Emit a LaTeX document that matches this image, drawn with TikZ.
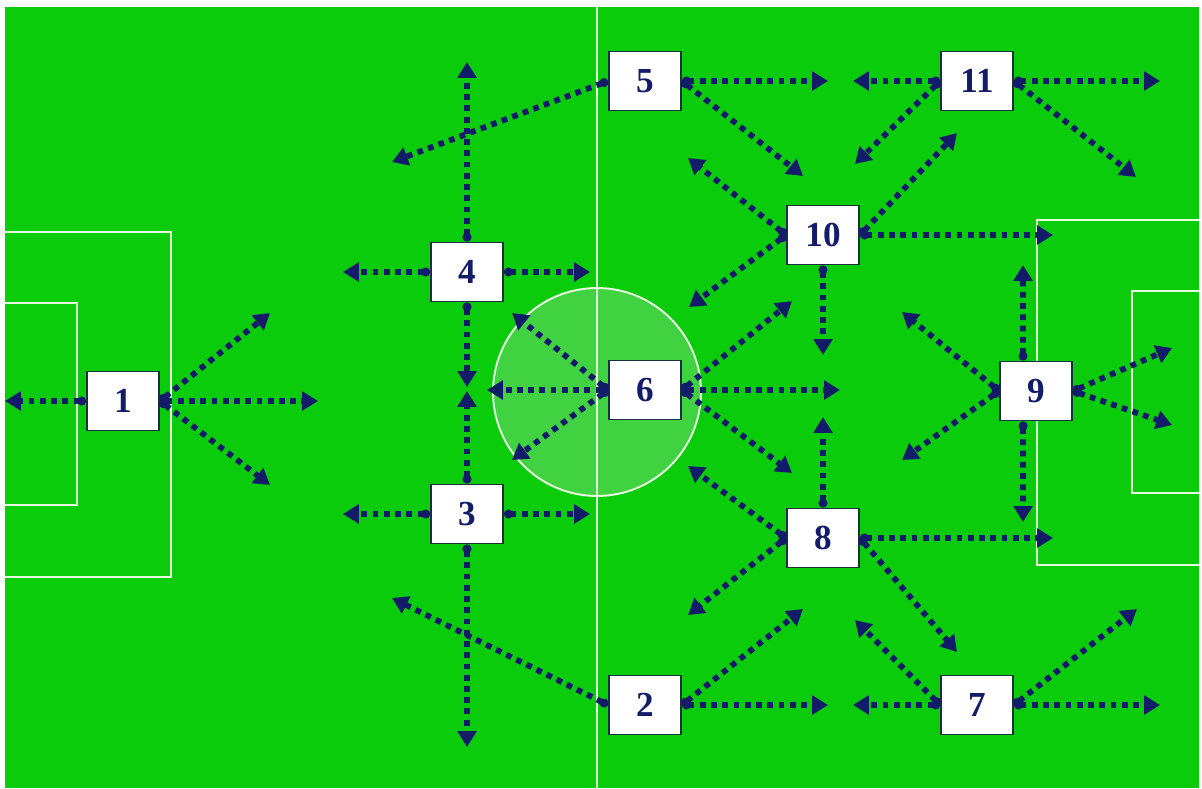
\documentclass[tikz,border=0pt]{standalone}
\usepackage{xcolor}
\usepackage{fontspec}
\setmainfont{Liberation Serif}
\usepackage{tikz}
\usetikzlibrary{arrows.meta}
\definecolor{pitch}{RGB}{10,204,10}
\definecolor{circ}{RGB}{64,210,64}
\definecolor{chalk}{RGB}{232,250,222}
\definecolor{navy}{RGB}{18,28,104}
\definecolor{rim}{RGB}{24,48,64}
\tikzset{
  player/.style={draw=rim,fill=white,line width=1.1pt,minimum width=1.44cm,minimum height=1.18cm,inner sep=0pt,font=\fontsize{20}{24}\selectfont\bfseries,text=navy},
  run/.style={draw=navy,line width=3.3pt,dash pattern=on 3.3pt off 3.1pt,{Circle[length=5pt]}-{Triangle[length=9pt,width=10.5pt]}},
  chalkline/.style={draw=chalk,line width=1.1pt}
}

\begin{document}
\begin{tikzpicture}[x=0.02cm,y=-0.02cm]
\useasboundingbox (0,0) rectangle (1202,788);
\fill[pitch] (5,7) rectangle (1199,788);
\filldraw[fill=circ,chalkline] (597,392) circle (2.08cm);
\draw[chalkline] (597,7) -- (597,788);
\draw[chalkline] (5,232) -- (171,232) -- (171,577) -- (5,577);
\draw[chalkline] (5,303) -- (77,303) -- (77,505) -- (5,505);
\draw[chalkline] (1199,220) -- (1037,220) -- (1037,565) -- (1199,565);
\draw[chalkline] (1199,291) -- (1132,291) -- (1132,493) -- (1199,493);

\node[player] (n1) at (123,401) {1};
\node[player] (n2) at (645,705) {2};
\node[player] (n3) at (467,514) {3};
\node[player] (n4) at (467,272) {4};
\node[player] (n5) at (645,81) {5};
\node[player] (n6) at (645,390) {6};
\node[player] (n7) at (977,705) {7};
\node[player] (n8) at (823,538) {8};
\node[player] (n9) at (1036,391) {9};
\node[player] (n10) at (823,235) {10};
\node[player] (n11) at (977,81) {11};

\foreach \c/\x/\y in {r1a/5/401, r1b/318/401, r1c/270/313, r1d/270/485,
    r2a/392/598, r2b/803/609, r2c/828/705,
    r3a/467/391, r3b/467/747, r3c/343/514, r3d/590/514,
    r4a/467/62, r4b/467/387, r4c/343/272, r4d/590/272,
    r5a/392/162, r5b/828/81, r5c/803/176,
    r6a/487/390, r6b/512/313, r6c/512/460, r6d/840/390, r6e/792/301, r6f/792/473,
    r7a/855/620, r7b/853/705, r7c/1137/609, r7d/1160/705,
    r8a/823/417, r8b/688/466, r8c/688/615, r8d/1053/538, r8e/957/652,
    r9a/902/312, r9b/902/460, r9c/1023/265, r9d/1023/522, r9e/1172/348, r9f/1172/425,
    r10a/688/158, r10b/689/307, r10c/957/133, r10d/1053/235, r10e/823/355,
    r11a/853/81, r11b/1160/81, r11c/855/164, r11d/1136/177}
  \coordinate (\c) at (\x,\y);

\foreach \s/\c in {n1.west/r1a, n1.east/r1b, n1.east/r1c, n1.east/r1d,
    n2.west/r2a, n2.east/r2b, n2.east/r2c,
    n3.north/r3a, n3.south/r3b, n3.west/r3c, n3.east/r3d,
    n4.north/r4a, n4.south/r4b, n4.west/r4c, n4.east/r4d,
    n5.west/r5a, n5.east/r5b, n5.east/r5c,
    n6.west/r6a, n6.west/r6b, n6.west/r6c, n6.east/r6d, n6.east/r6e, n6.east/r6f,
    n7.west/r7a, n7.west/r7b, n7.east/r7c, n7.east/r7d,
    n8.north/r8a, n8.west/r8b, n8.west/r8c, n8.east/r8d, n8.east/r8e,
    n9.west/r9a, n9.west/r9b, n9.113/r9c, n9.247/r9d, n9.east/r9e, n9.east/r9f,
    n10.west/r10a, n10.west/r10b, n10.east/r10c, n10.east/r10d, n10.south/r10e,
    n11.west/r11a, n11.east/r11b, n11.west/r11c, n11.east/r11d}
  \draw[run] (\s) -- (\c);
\end{tikzpicture}
\end{document}
